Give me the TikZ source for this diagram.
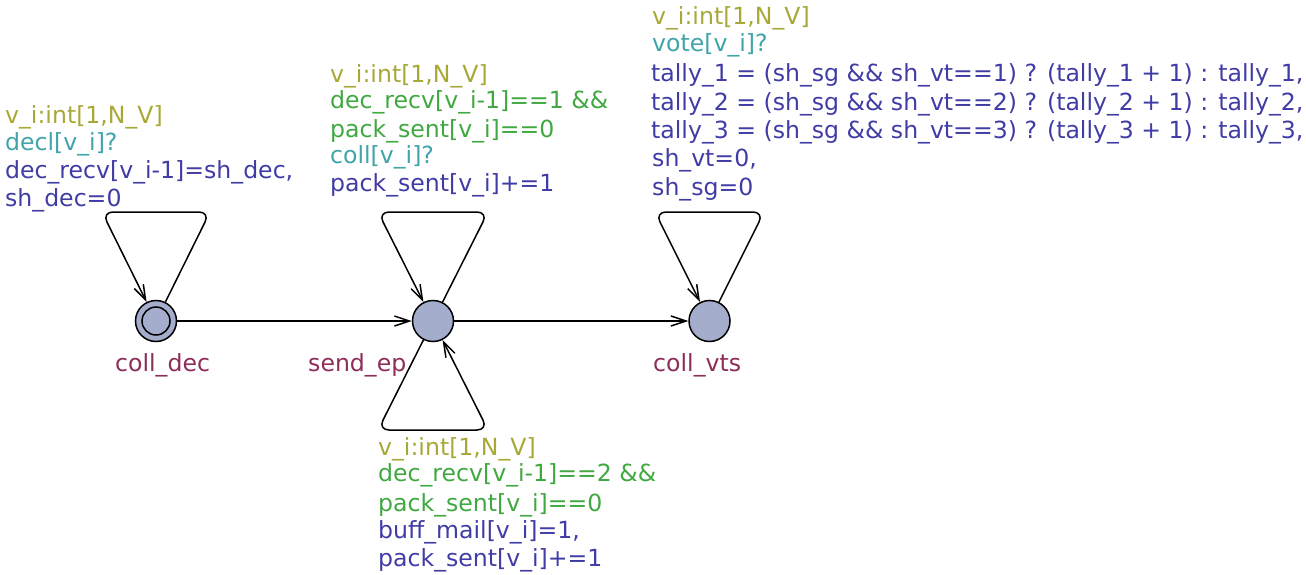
\documentclass[tikz,border=0pt]{standalone}
\usepackage{fontspec}
\setmainfont{DejaVu Sans}
\usetikzlibrary{arrows.meta}
\definecolor{selc}{RGB}{168,168,55}
\definecolor{grdc}{RGB}{64,168,64}
\definecolor{sync}{RGB}{64,164,170}
\definecolor{updc}{RGB}{64,60,165}
\definecolor{namec}{RGB}{140,45,90}
\definecolor{locfill}{RGB}{165,173,204}
\tikzset{
  loc/.style={circle, draw=black, fill=locfill, line width=1.5pt, minimum size=41pt, inner sep=0pt},
  inner/.style={circle, draw=black, line width=1.5pt, minimum size=28pt, inner sep=0pt},
  edge/.style={draw=black, line width=1.5pt, -{Straight Barb[length=15pt,width=10pt]}, rounded corners=11pt},
  lbl/.style={anchor=base west, inner sep=0pt, font=\fontsize{23.6}{28}\selectfont},
  sel/.style={lbl, text=selc},
  grd/.style={lbl, text=grdc},
  syn/.style={lbl, text=sync},
  upd/.style={lbl, text=updc},
  nam/.style={lbl, text=namec},
}
\begin{document}
\begin{tikzpicture}[x=1pt,y=-1pt]
\useasboundingbox (0,0) rectangle (1306,575);
% locations
\node[loc] (cd) at (156,321) {};
\node[inner] (cdi) at (156,321) {};
\node[loc] (se) at (433,321) {};
\node[loc] (cv) at (709.5,321) {};
% names
\node[nam] (ncd) at (115,371) {coll\_dec};
\node[nam] (nse) at (308,371) {send\_ep};
\node[nam] (ncv) at (653,371) {coll\_vts};
% nails
\coordinate (cdA) at (210,212);
\coordinate (cdB) at (102,212);
\coordinate (seA) at (488,212);
\coordinate (seB) at (378,212);
\coordinate (seC) at (378,430);
\coordinate (seD) at (488,430);
\coordinate (cvA) at (764,212);
\coordinate (cvB) at (655,212);
% edges
\draw[edge] (cd) -- (se);
\draw[edge] (se) -- (cv);
\draw[edge] (cd) -- (cdA) -- (cdB) -- (cd);
\draw[edge] (se) -- (seA) -- (seB) -- (se);
\draw[edge] (se) -- (seC) -- (seD) -- (se);
\draw[edge] (cv) -- (cvA) -- (cvB) -- (cv);
% labels coll_dec loop
\node[sel] (l1s) at (5,123.3) {v\_i:int[1,N\_V]};
\node[syn] (l1y) at (5,150) {decl[v\_i]?};
\node[upd] (l1u1) at (5,178.3) {dec\_recv[v\_i-1]=sh\_dec,};
\node[upd] (l1u2) at (5,206.7) {sh\_dec=0};
% labels send_ep upper loop
\node[sel] (l2s) at (330,82.7) {v\_i:int[1,N\_V]};
\node[grd] (l2g1) at (330,108.3) {dec\_recv[v\_i-1]==1 \&\&};
\node[grd] (l2g2) at (330,137.7) {pack\_sent[v\_i]==0};
\node[syn] (l2y) at (330,163.3) {coll[v\_i]?};
\node[upd] (l2u) at (330,191.7) {pack\_sent[v\_i]+=1};
% labels send_ep lower loop
\node[sel] (l3s) at (378,455) {v\_i:int[1,N\_V]};
\node[grd] (l3g1) at (378,481.7) {dec\_recv[v\_i-1]==2 \&\&};
\node[grd] (l3g2) at (378,511.7) {pack\_sent[v\_i]==0};
\node[upd] (l3u1) at (378,538.3) {buff\_mail[v\_i]=1,};
\node[upd] (l3u2) at (378,566.7) {pack\_sent[v\_i]+=1};
% labels coll_vts loop
\node[sel] (l4s) at (652,25) {v\_i:int[1,N\_V]};
\node[syn] (l4y) at (652,52) {vote[v\_i]?};
\node[upd] (l4u1) at (651,81.7) {tally\_1 = (sh\_sg \&\& sh\_vt==1) ? (tally\_1 + 1) : tally\_1,};
\node[upd] (l4u2) at (651,110.1) {tally\_2 = (sh\_sg \&\& sh\_vt==2) ? (tally\_2 + 1) : tally\_2,};
\node[upd] (l4u3) at (651,138.5) {tally\_3 = (sh\_sg \&\& sh\_vt==3) ? (tally\_3 + 1) : tally\_3,};
\node[upd] (l4u4) at (652,166.9) {sh\_vt=0,};
\node[upd] (l4u5) at (652,195.3) {sh\_sg=0};
\end{tikzpicture}
\end{document}
